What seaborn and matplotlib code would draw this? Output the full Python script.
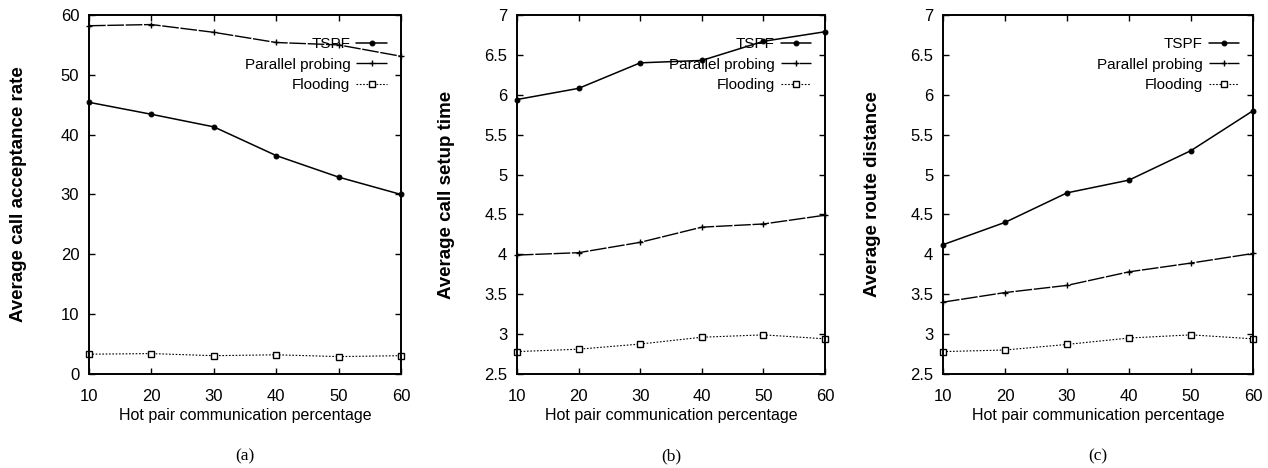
import matplotlib
matplotlib.use("Agg")
import matplotlib.pyplot as plt
import seaborn as sns
import pandas as pd

# x values shared by all panels
hot_pct = [10, 20, 30, 40, 50, 60]

# (a) average call acceptance rate
acc_tspf = [45.4, 43.4, 41.3, 36.5, 32.9, 30.0]
acc_pp = [58.2, 58.4, 57.1, 55.4, 55.0, 53.1]
acc_flood = [3.3, 3.4, 3.05, 3.2, 2.9, 3.05]

# (b) average call setup time
setup_tspf = [5.94, 6.08, 6.40, 6.43, 6.67, 6.79]
setup_pp = [3.99, 4.02, 4.15, 4.34, 4.38, 4.49]
setup_flood = [2.78, 2.81, 2.875, 2.96, 2.99, 2.94]

# (c) average route distance
route_tspf = [4.12, 4.40, 4.77, 4.93, 5.30, 5.80]
route_pp = [3.40, 3.52, 3.61, 3.78, 3.89, 4.01]
route_flood = [2.78, 2.80, 2.87, 2.95, 2.99, 2.94]

series_names = ["TSPF", "Parallel probing", "Flooding"]
ylabels = ["Average call acceptance rate", "Average call setup time", "Average route distance"]
captions = ["(a)", "(b)", "(c)"]
ylims = [(0, 60), (2.5, 7), (2.5, 7)]
yticks = [[0, 10, 20, 30, 40, 50, 60],
          [2.5, 3, 3.5, 4, 4.5, 5, 5.5, 6, 6.5, 7],
          [2.5, 3, 3.5, 4, 4.5, 5, 5.5, 6, 6.5, 7]]
ytick_labels = [["0", "10", "20", "30", "40", "50", "60"],
                ["2.5", "3", "3.5", "4", "4.5", "5", "5.5", "6", "6.5", "7"],
                ["2.5", "3", "3.5", "4", "4.5", "5", "5.5", "6", "6.5", "7"]]
panels = [(acc_tspf, acc_pp, acc_flood),
          (setup_tspf, setup_pp, setup_flood),
          (route_tspf, route_pp, route_flood)]

sns.set_style("ticks")
plt.rcParams["font.family"] = ["Liberation Sans", "DejaVu Sans"]
plt.rcParams["text.color"] = "black"
plt.rcParams["axes.labelcolor"] = "black"
plt.rcParams["xtick.color"] = "black"
plt.rcParams["ytick.color"] = "black"

styles = {
    "TSPF": dict(marker="o", markersize=3.5, linestyle="-", linewidth=1.1),
    "Parallel probing": dict(marker="+", markersize=5, markeredgewidth=1.0,
                             linestyle=(0, (12, 1.2)), linewidth=1.0),
    "Flooding": dict(marker="s", markersize=4, markerfacecolor="white", markeredgewidth=1.0,
                     linestyle=(0, (1.5, 1.5)), linewidth=0.8),
}

fig = plt.figure(figsize=(12.68, 4.68), dpi=100)
lefts = [0.0702, 0.4077, 0.7437]
widths = [0.246, 0.243, 0.2445]

for i, vals in enumerate(panels):
    ax = fig.add_axes([lefts[i], 0.201, widths[i], 0.767])
    df = pd.DataFrame({"x": hot_pct * 3,
                       "y": list(vals[0]) + list(vals[1]) + list(vals[2]),
                       "series": [n for n in series_names for _ in hot_pct]})
    for name in series_names:
        sub = df[df["series"] == name]
        sns.lineplot(data=sub, x="x", y="y", ax=ax, color="black", label=name,
                     markeredgecolor="black", clip_on=False, **styles[name])
    ax.set_xlim(10, 60)
    ax.set_ylim(*ylims[i])
    ax.set_xticks(hot_pct)
    ax.set_xticklabels([str(v) for v in hot_pct], fontsize=12)
    ax.set_yticks(yticks[i])
    ax.set_yticklabels(ytick_labels[i], fontsize=12)
    ax.tick_params(axis="x", direction="in", top=True, length=4, width=1, pad=11)
    ax.tick_params(axis="y", direction="in", right=True, length=4, width=1, pad=7)
    for sp in ax.spines.values():
        sp.set_linewidth(1.4)
        sp.set_color("black")
    ax.set_xlabel("Hot pair communication percentage", fontsize=11.5, labelpad=3)
    ax.set_ylabel(ylabels[i], fontsize=13.5, fontweight="bold")
    ax.yaxis.set_label_coords(-0.2, 0.5)
    leg = ax.legend(loc="upper right", markerfirst=False, frameon=False, fontsize=11,
                    handlelength=2.0, handletextpad=0.4, labelspacing=0.42,
                    borderaxespad=0.0, bbox_to_anchor=(0.975, 0.955))
    fig.text(lefts[i] + widths[i] / 2, 0.024, captions[i], ha="center", va="center",
             fontsize=12.5, family=["Liberation Serif", "DejaVu Serif"])

fig.savefig("out.png", dpi=100)
